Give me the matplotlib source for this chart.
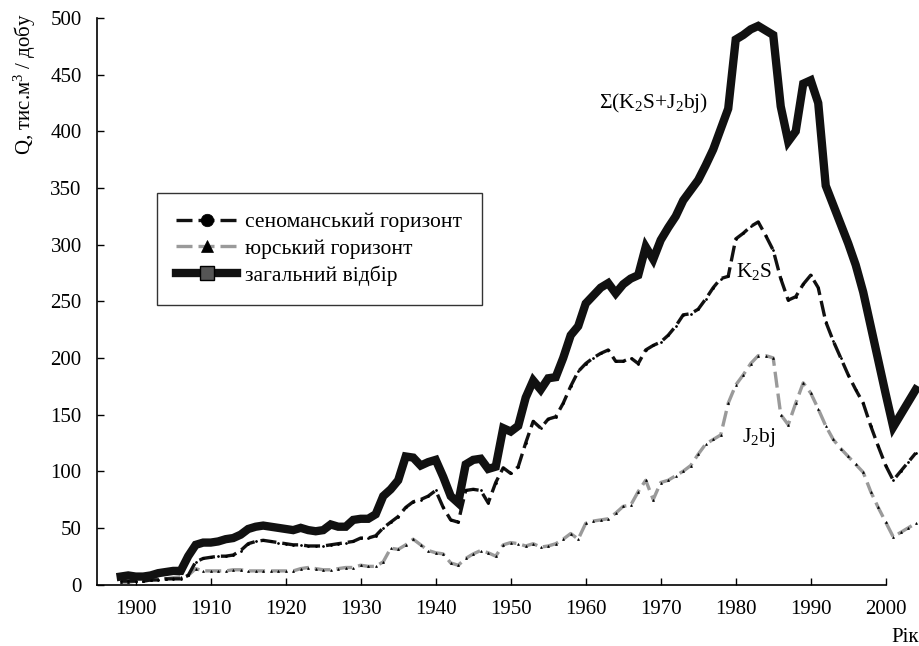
import matplotlib
matplotlib.use("Agg")
import matplotlib.pyplot as plt

plt.rcParams["font.family"] = ["Liberation Serif", "DejaVu Serif"]
plt.rcParams["mathtext.fontset"] = "custom"
plt.rcParams["mathtext.rm"] = "Liberation Serif"
plt.rcParams["mathtext.it"] = "Liberation Serif:italic"
plt.rcParams["mathtext.bf"] = "Liberation Serif:bold"

years = list(range(1898, 2005))

# сеноманський горизонт (K2S), тис. м3/добу
k2s = [3, 3, 3, 3, 4, 4, 5, 5, 5, 8,
       20, 23, 24, 25, 25, 26, 30, 36, 38, 39,
       38, 37, 36, 35, 35, 34, 34, 34, 35, 36,
       37, 38, 41, 41, 43, 50, 55, 60, 68, 73,
       75, 78, 83, 68, 57, 55, 83, 84, 83, 72,
       90, 103, 98, 104, 125, 144, 138, 146, 148, 160,
       175, 188, 195, 200, 204, 207, 197, 197, 200, 195,
       207, 211, 214, 220, 228, 238, 239, 243, 252, 262,
       270, 272, 305, 310, 316, 320, 308, 295, 270, 251,
       254, 265, 273, 262, 232, 215, 200, 185, 172, 160,
       140, 122, 105, 92, 100, 108, 116]

# юрський горизонт (J2bj)
j2bj = [2, 2, 3, 3, 4, 5, 5, 6, 7, 8,
        14, 12, 12, 12, 12, 13, 13, 12, 12, 12,
        12, 12, 12, 12, 14, 15, 14, 13, 13, 14,
        15, 15, 17, 16, 16, 20, 32, 31, 35, 40,
        35, 30, 28, 27, 19, 17, 23, 27, 30, 28,
        25, 35, 37, 36, 34, 36, 33, 34, 36, 40,
        45, 40, 54, 56, 57, 58, 63, 69, 70, 82,
        92, 75, 90, 92, 96, 100, 105, 115, 124, 128,
        132, 160, 176, 185, 195, 202, 202, 200, 150, 141,
        160, 178, 169, 155, 140, 128, 120, 113, 106, 99,
        82, 68, 55, 42, 46, 50, 54]

# загальний відбір
total = [7, 8, 7, 7, 8, 10, 11, 12, 12, 25,
         35, 37, 37, 38, 40, 41, 44, 49, 51, 52,
         51, 50, 49, 48, 50, 48, 47, 48, 53, 51,
         51, 57, 58, 58, 62, 78, 84, 92, 113, 112,
         105, 108, 110, 95, 78, 72, 106, 110, 111, 102,
         104, 138, 135, 140, 165, 180, 172, 182, 183, 200,
         220, 228, 248, 255, 262, 266, 257, 265, 270, 273,
         298, 287, 304, 315, 325, 339, 348, 357, 370, 384,
         402, 420, 481, 485, 490, 493, 489, 485, 422, 391,
         400, 442, 445, 425, 352, 335, 318, 301, 282, 258,
         228, 198, 168, 139, 150, 161, 172]

series_labels = ["сеноманський горизонт", "юрський горизонт", "загальний відбір"]
xticks = list(range(1900, 2001, 10))
yticks = list(range(0, 501, 50))

fig = plt.figure(figsize=(9.2, 6.46), dpi=100)
ax = fig.add_axes([97 / 920, 61.5 / 646, 823 / 920, 566.5 / 646])

ax.plot(years, j2bj, color="#9a9a9a", lw=2.4, dashes=(4.8, 1.8),
        marker="^", ms=1.4, mfc="black", mec="black", mew=0.5,
        label=series_labels[1], zorder=2)
ax.plot(years, k2s, color="#111111", lw=2.4, dashes=(4.8, 1.8),
        marker="o", ms=1.4, mfc="black", mec="black", mew=0.5,
        label=series_labels[0], zorder=3)
ax.plot(years, total, color="#111111", lw=6.0, solid_joinstyle="miter",
        marker="s", ms=0, mfc="#555555", mec="black",
        label=series_labels[2], zorder=4)

ax.set_xlim(1894.84, 2004.57)
ax.set_ylim(0, 500)
ax.set_xticks(xticks)
ax.set_yticks(yticks)
ax.tick_params(direction="in", length=5, width=1, labelsize=15, color="black")
ax.tick_params(axis="y", pad=11)
ax.tick_params(axis="x", pad=11)
for s in ("top", "right"):
    ax.spines[s].set_visible(False)
for s in ("left", "bottom"):
    ax.spines[s].set_linewidth(1.2)
ax.spines["bottom"].set_bounds(1894.84, 2000)

handles, labels = ax.get_legend_handles_labels()
order = [1, 0, 2]
leg = ax.legend([handles[i] for i in order], [labels[i] for i in order],
                loc="upper left", bbox_to_anchor=(157 / 920, 1 - 193 / 646),
                bbox_transform=fig.transFigure, borderaxespad=0,
                fontsize=15.5, frameon=True, fancybox=False, edgecolor="black",
                handlelength=2.8, handletextpad=0.4, borderpad=0.9,
                labelspacing=0.3)
leg.get_frame().set_linewidth(1.0)
for h in leg.legend_handles:
    h.set_markersize(9)
leg.legend_handles[2].set_markersize(10)

ax.text(1969.1, 425, "Σ(K$_2$S+J$_2$bj)", fontsize=15.5, ha="center", va="center")
ax.text(1982.4, 276, "K$_2$S", fontsize=15.5, ha="center", va="center")
ax.text(1983.1, 130, "J$_2$bj", fontsize=15.5, ha="center", va="center")

fig.text(25 / 920, 1 - 84 / 646, "Q, тис.м$^3$ / добу", rotation=90,
         fontsize=15, ha="center", va="center")
fig.text(905 / 920, 1 - 637 / 646, "Рік", fontsize=15, ha="center", va="center")

fig.savefig("out.png", dpi=100)
